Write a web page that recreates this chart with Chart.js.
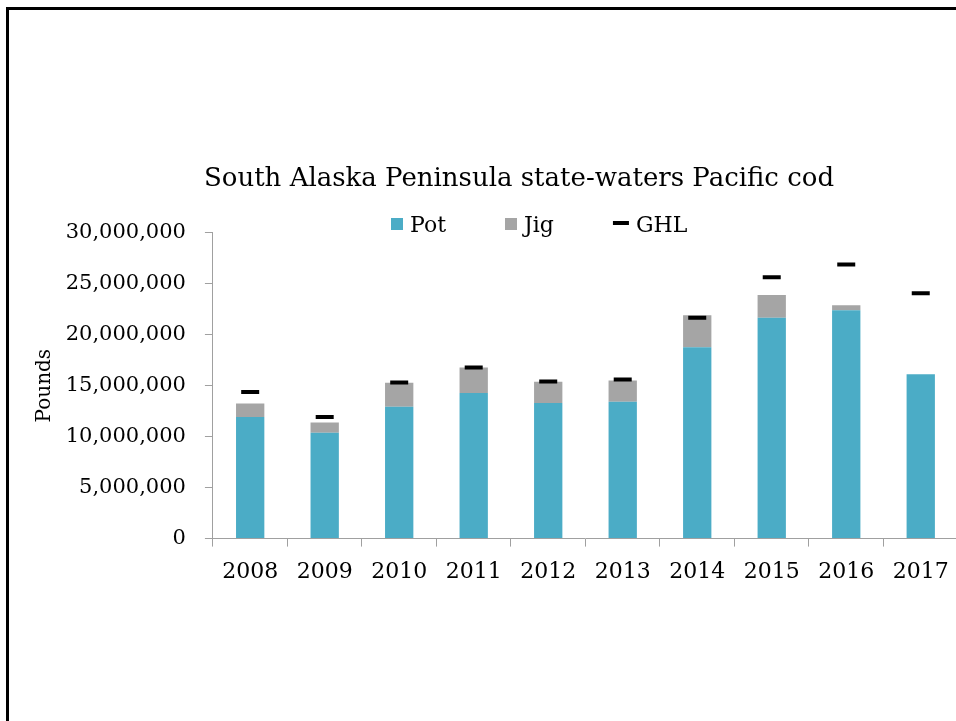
<!DOCTYPE html>
<html lang="en">
<head>
<meta charset="UTF-8">
<title>South Alaska Peninsula state-waters Pacific cod</title>
<script src="https://cdn.jsdelivr.net/npm/chart.js"></script>
<style>
    html, body { margin: 0; padding: 0; background: #ffffff; overflow: hidden; width: 956px; height: 721px; }
    .frame { position: absolute; left: 6px; top: 7px; width: 1000px; height: 800px; border-top: 3px solid #000; border-left: 3px solid #000; }
    .wrap { position: absolute; left: 0; top: 0; width: 1056px; height: 600px; }
</style>
</head>
<body>
<div class="frame"></div>
<div class="wrap"><canvas id="myChart" width="1056" height="600"></canvas></div>
<script>
    // values in pounds
    const years = ['2008', '2009', '2010', '2011', '2012', '2013', '2014', '2015', '2016', '2017'];
    const pot = [11920000, 10380000, 12930000, 14270000, 13290000, 13420000, 18770000, 21650000, 22400000, 16130000];
    const jig = [1330000, 1010000, 2350000, 2510000, 2090000, 2080000, 3130000, 2250000, 490000, 0];
    const ghl = [14370000, 11920000, 15310000, 16780000, 15400000, 15600000, 21670000, 25630000, 26870000, 24060000];

    const chartTitle = 'South Alaska Peninsula state-waters Pacific cod';
    const serif = 'DejaVu Serif';

    // title + legend drawn by hand so they can sit where the original has them
    const headerPlugin = {
        id: 'header',
        afterDraw(chart) {
            const ctx = chart.ctx;
            ctx.save();
            ctx.fillStyle = '#000';
            ctx.textBaseline = 'alphabetic';
            ctx.textAlign = 'center';
            ctx.font = `26px "${serif}"`;
            ctx.fillText(chartTitle, 519, 186);

            ctx.textAlign = 'left';
            ctx.font = `22px "${serif}"`;
            let x = 391;
            chart.data.datasets.forEach(ds => {
                if (ds.type === 'line') {
                    ctx.fillStyle = '#000';
                    ctx.fillRect(x, 221, 16, 4);
                    x += 16;
                } else {
                    ctx.fillStyle = ds.backgroundColor;
                    ctx.fillRect(x, 218, 12, 12);
                    x += 12;
                }
                x += 7;
                ctx.fillStyle = '#000';
                ctx.fillText(ds.label, x, 232);
                x += ctx.measureText(ds.label).width + 59;
            });
            ctx.restore();
        }
    };

    new Chart(document.getElementById('myChart'), {
        type: 'bar',
        data: {
            labels: years,
            datasets: [
                { label: 'Pot', data: pot, backgroundColor: '#4BACC6', stack: 'catch', order: 1,
                  barPercentage: 0.76, categoryPercentage: 0.5 },
                { label: 'Jig', data: jig, backgroundColor: '#A5A5A5', stack: 'catch', order: 1,
                  barPercentage: 0.76, categoryPercentage: 0.5 },
                { type: 'line', label: 'GHL', data: ghl, stack: 'ghl', order: 0, showLine: false,
                  pointStyle: 'line', pointRadius: 9, pointHoverRadius: 9, borderColor: '#000', backgroundColor: '#000',
                  pointBorderWidth: 4, borderWidth: 4 }
            ]
        },
        options: {
            responsive: false,
            animation: false,
            devicePixelRatio: 1,
            layout: { padding: { left: 0, right: 98, top: 232.7, bottom: 3 } },
            plugins: {
                title: { display: false },
                legend: { display: false },
                tooltip: { enabled: false }
            },
            scales: {
                x: {
                    stacked: true,
                    grid: { display: true, drawOnChartArea: false, color: '#A0A0A0', tickLength: 8, offset: true },
                    border: { color: '#A0A0A0', width: 1 },
                    ticks: { color: '#000', font: { family: serif, size: 22 }, padding: 12, maxRotation: 0 }
                },
                y: {
                    stacked: true,
                    min: 0,
                    max: 30000000,
                    title: {
                        display: true, text: 'Pounds', color: '#000',
                        font: { family: serif, size: 20, lineHeight: 1 },
                        padding: { top: 35, bottom: -8.3 }
                    },
                    grid: { display: true, drawOnChartArea: false, color: '#A0A0A0', tickLength: 8 },
                    border: { color: '#A0A0A0', width: 1 },
                    ticks: {
                        stepSize: 5000000,
                        color: '#000',
                        padding: 19,
                        font: { family: serif, size: 21 },
                        callback: v => v.toLocaleString('en-US')
                    }
                }
            }
        },
        plugins: [headerPlugin]
    });
</script>
</body>
</html>
